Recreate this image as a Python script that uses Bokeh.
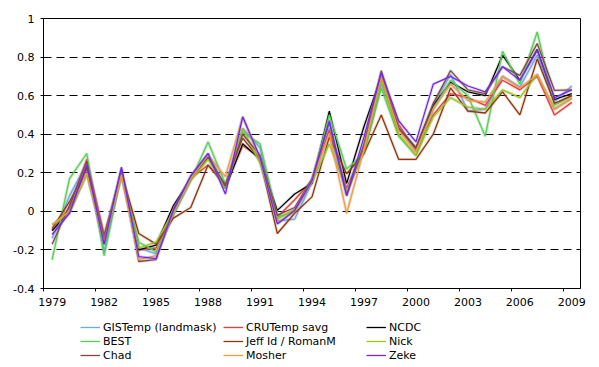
from bokeh.plotting import figure
from bokeh.layouts import column
from bokeh.models import FixedTicker, Legend, LegendItem, Range1d
from bokeh.embed import file_html
from bokeh.resources import INLINE

years = list(range(1979, 2010))

gistemp = [-0.14, 0.08, 0.25, -0.21, 0.20, -0.19, -0.22, -0.01, 0.17, 0.30, 0.12, 0.43, 0.33, -0.05, -0.04, 0.15,
           0.43, 0.09, 0.33, 0.66, 0.44, 0.31, 0.55, 0.71, 0.52, 0.53, 0.70, 0.645, 0.81, 0.57, 0.65]
crutemp = [-0.10, 0.02, 0.27, -0.12, 0.20, -0.20, -0.19, 0.00, 0.17, 0.24, 0.13, 0.34, 0.28, -0.03, 0.06, 0.16,
           0.42, 0.12, 0.33, 0.71, 0.45, 0.32, 0.50, 0.61, 0.59, 0.55, 0.68, 0.63, 0.70, 0.50, 0.565]
ncdc = [-0.10, 0.00, 0.23, -0.17, 0.21, -0.20, -0.175, 0.03, 0.17, 0.28, 0.12, 0.35, 0.27, 0.005, 0.09, 0.145,
        0.52, 0.145, 0.44, 0.70, 0.43, 0.33, 0.55, 0.67, 0.62, 0.60, 0.81, 0.68, 0.84, 0.58, 0.61]
best = [-0.25, 0.17, 0.30, -0.23, 0.20, -0.16, -0.21, -0.02, 0.16, 0.36, 0.14, 0.41, 0.35, -0.03, 0.00, 0.16,
        0.50, 0.22, 0.30, 0.64, 0.39, 0.29, 0.53, 0.68, 0.60, 0.39, 0.83, 0.66, 0.93, 0.55, 0.60]
jeff_roman = [-0.09, 0.05, 0.22, -0.13, 0.20, -0.115, -0.17, -0.035, 0.02, 0.24, 0.14, 0.38, 0.27, -0.115, -0.01, 0.075,
              0.385, 0.195, 0.30, 0.50, 0.27, 0.27, 0.40, 0.64, 0.52, 0.51, 0.62, 0.50, 0.79, 0.56, 0.60]
nick = [-0.07, -0.01, 0.19, -0.16, 0.18, -0.19, -0.16, 0.00, 0.16, 0.27, 0.12, 0.43, 0.25, -0.04, 0.01, 0.15,
        0.35, 0.11, 0.31, 0.68, 0.40, 0.29, 0.49, 0.59, 0.54, 0.53, 0.63, 0.59, 0.71, 0.53, 0.585]
chad = [-0.17, 0.03, 0.26, -0.15, 0.22, -0.26, -0.25, 0.01, 0.18, 0.29, 0.13, 0.40, 0.29, -0.02, 0.02, 0.17,
        0.46, 0.08, 0.35, 0.73, 0.43, 0.33, 0.56, 0.73, 0.63, 0.61, 0.75, 0.705, 0.87, 0.627, 0.63]
mosher = [-0.07, 0.00, 0.20, -0.16, 0.19, -0.25, -0.23, -0.01, 0.17, 0.29, 0.18, 0.49, 0.27, -0.06, 0.00, 0.16,
          0.405, -0.01, 0.32, 0.70, 0.42, 0.31, 0.53, 0.66, 0.575, 0.567, 0.70, 0.64, 0.71, 0.53, 0.59]
zeke = [-0.12, -0.01, 0.24, -0.17, 0.23, -0.235, -0.245, 0.005, 0.185, 0.30, 0.09, 0.49, 0.28, -0.065, 0.005, 0.16,
        0.47, 0.083, 0.385, 0.72, 0.47, 0.36, 0.66, 0.70, 0.65, 0.62, 0.75, 0.68, 0.835, 0.59, 0.63]

series_names = ["GISTemp (landmask)", "CRUTemp savg", "NCDC", "BEST", "Jeff Id / RomanM", "Nick",
                "Chad", "Mosher", "Zeke"]
series_values = [gistemp, crutemp, ncdc, best, jeff_roman, nick, chad, mosher, zeke]
series_colors = ["#66AAFF", "#FF3333", "#000000", "#44DD44", "#993300", "#99CC00",
                 "#884444", "#FF9933", "#7722FF"]

y_ticks = [-0.4, -0.2, 0.0, 0.2, 0.4, 0.6, 0.8, 1.0]
y_tick_labels = ["-0.4", "-0.2", "0", "0.2", "0.4", "0.6", "0.8", "1"]
x_tick_years = [1979, 1982, 1985, 1988, 1991, 1994, 1997, 2000, 2003, 2006, 2009]
x_tick_labels = ["1979", "1982", "1985", "1988", "1991", "1994", "1997", "2000", "2003", "2006", "2009"]

FONT = "DejaVu Sans"

p = figure(frame_width=537, frame_height=270, x_range=(1978.5, 2009.5), y_range=(-0.4, 1.0),
           output_backend="svg", toolbar_location=None,
           min_border_left=43, min_border_right=19, min_border_top=18, min_border_bottom=30)
p.background_fill_color = "white"
p.border_fill_color = "white"
p.outline_line_color = "black"
p.outline_line_width = 1
p.outline_line_alpha = 1

for vals, color in zip(series_values, series_colors):
    p.line(years, vals, line_color="#888888", line_alpha=0.25, line_width=3.2)
    p.line(years, vals, line_color=color, line_width=1.3)

# y axis
ya = p.yaxis[0]
ya.ticker = FixedTicker(ticks=y_ticks)
ya.major_label_overrides = {t: s for t, s in zip(y_ticks, y_tick_labels)}
ya.minor_tick_line_color = None
ya.major_tick_out = 3
ya.major_tick_in = 0
ya.major_label_standoff = 6
ya.axis_line_color = "black"
ya.major_tick_line_color = "black"
ya.major_label_text_font = FONT
ya.major_label_text_font_size = "11px"
ya.major_label_text_color = "black"

# x axis: labels centred on categories, tick marks at category boundaries
xa = p.xaxis[0]
xa.ticker = FixedTicker(ticks=x_tick_years, minor_ticks=[y - 0.5 for y in x_tick_years])
xa.major_label_overrides = {t: s for t, s in zip(x_tick_years, x_tick_labels)}
xa.major_tick_line_color = None
xa.major_tick_out = 3
xa.major_tick_in = 0
xa.minor_tick_line_color = "black"
xa.minor_tick_out = 3
xa.minor_tick_in = 0
xa.major_label_standoff = 6
xa.axis_line_color = "black"
xa.major_label_text_font = FONT
xa.major_label_text_font_size = "11px"
xa.major_label_text_color = "black"

p.xgrid.visible = False
p.ygrid.grid_line_color = "black"
p.ygrid.grid_line_dash = "8 5"
p.ygrid.grid_line_width = 1

# legend strip below the chart (its series lines fall outside its own ranges, only the legend shows)
lg = figure(width=599, height=49, x_range=Range1d(0, 1), y_range=Range1d(0, 1),
            x_axis_type=None, y_axis_type=None, output_backend="svg", toolbar_location=None,
            min_border_left=0, min_border_right=0, min_border_top=0, min_border_bottom=0)
lg.outline_line_color = None
lg.xgrid.visible = False
lg.ygrid.visible = False
lg.background_fill_color = "white"
lg.border_fill_color = "white"

items = []
for name, vals, color in zip(series_names, series_values, series_colors):
    r = lg.line(years, vals, line_color=color, line_width=1.3)
    items.append(LegendItem(label=name, renderers=[r]))

legend = Legend(items=items, orientation="horizontal", ncols=3, location=(37, 5),
                glyph_width=20, glyph_height=14, label_height=14, label_width=120,
                label_standoff=3, spacing=0, padding=0, margin=0,
                border_line_color=None, background_fill_alpha=0,
                label_text_font=FONT, label_text_font_size="11px", label_text_color="black")
lg.add_layout(legend, "center")

layout = column(p, lg, spacing=0)
open("out.html", "w").write(file_html(layout, INLINE))
